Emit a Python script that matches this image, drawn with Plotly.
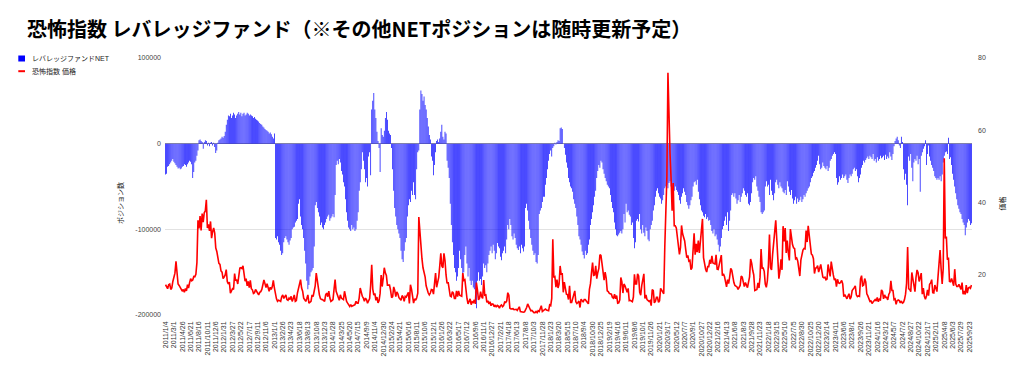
import pandas as pd
import plotly.graph_objects as go

# ---------------- data (weekly, Tuesdays, from 2011/1/4) ----------------
# Leveraged-fund NET positions, in thousands of contracts
net_2011 = [-36,-35,-27,-26,-24,-22,-20,-18,-21,-23,-25,-27,-29,-28,-30,-29,-27,-26,-24,-25,-27,-24,-22,-20,-21,-24,-40,-33,-22,-20,-14,-8,4,5,3,2,-6,2,4,3,-2,1,-3,1,2,-2,1,-4,-11,-8,1,4]
net_2012 = [5,6,8,7,9,14,22,28,33,32,35,30,33,36,34,30,33,35,37,34,36,32,35,36,33,34,36,35,33,34,33,32,30,31,29,28,27,26,24,23,22,20,19,17,16,15,14,12,13,11,8,6]
net_2013 = [12,-110,-112,-108,-115,-118,-125,-130,-128,-115,-110,-108,-112,-115,-118,-113,-110,-100,-98,-97,-92,-90,-88,-70,-65,-85,-95,-100,-110,-125,-140,-160,-170,-165,-155,-150,-148,-145,-120,-72,-68,-75,-80,-85,-95,-92,-98,-100,-95,-92,-88,-85,-83]
net_2014 = [-90,-87,-85,-82,-86,-60,-25,-20,-24,-18,-22,-32,-36,-45,-50,-65,-80,-90,-98,-100,-102,-95,-100,-98,-102,-100,-90,-80,-55,-45,-30,-10,-20,-30,-45,-40,-50,-15,-10,-37,40,50,59,40,30,14,3,-5,-33,18,10,8]
net_2015 = [15,30,37,28,15,12,10,-5,-30,-55,-75,-85,-95,-100,-105,-110,-125,-135,-138,-125,-115,-110,-85,-72,-65,-68,-55,-60,-45,-60,-65,-30,-10,-8,40,62,58,50,55,45,40,30,20,10,5,-15,-20,-37,-25,-10,3,5]
net_2016 = [2,6,14,22,8,5,14,12,-20,-28,-40,-70,-95,-115,-130,-145,-150,-160,-155,-145,-125,-135,-145,-160,-150,-130,-120,-140,-155,-145,-160,-165,-160,-168,-170,-175,-192,-160,-150,-160,-158,-165,-155,-140,-145,-142,-150,-140,-130,-125,-120,-128]
net_2017 = [-118,-125,-135,-128,-116,-120,-122,-132,-136,-128,-125,-120,-128,-112,-95,-100,-88,-95,-108,-112,-105,-110,-118,-122,-124,-120,-128,-118,-122,-126,-120,-75,-70,-78,-90,-100,-110,-118,-125,-130,-128,-138,-140,-130,-82,-78,-75,-68,-62,-62,-48,-40]
net_2018 = [-30,-20,-12,-8,-15,-5,-3,1,-1,2,4,3,18,19,17,0,-5,-13,-22,-28,-40,-45,-50,-52,-56,-65,-70,-75,-85,-95,-108,-112,-118,-126,-130,-134,-125,-130,-128,-118,-112,-95,-88,-80,-72,-62,-55,-40,-32,-25,-28,-20]
net_2019 = [-22,-30,-35,-40,-44,-48,-50,-52,-60,-68,-75,-80,-92,-100,-107,-108,-106,-104,-102,-105,-100,-82,-92,-70,-80,-78,-83,-85,-95,-92,-110,-122,-115,-90,-88,-91,-82,-100,-105,-95,-104,-108,-98,-102,-112,-114,-100,-95,-90,-78,-72,-62,-55]
net_2020 = [-52,-58,-62,-64,-70,-66,-60,-52,-50,-48,-52,-46,-44,-50,-58,-64,-55,-50,-54,-56,-60,-66,-70,-62,-58,-52,-56,-60,-68,-72,-76,-72,-66,-62,-50,-45,-44,-48,-42,-56,-65,-72,-78,-80,-84,-86,-82,-88,-86,-90,-89,-95]
net_2021 = [-102,-105,-100,-108,-106,-112,-118,-126,-120,-110,-100,-96,-90,-85,-95,-80,-102,-90,-78,-60,-58,-62,-58,-64,-70,-66,-60,-68,-62,-58,-52,-55,-60,-62,-58,-70,-72,-68,-58,-45,-40,-42,-38,-50,-55,-62,-68,-80,-82,-80,-78,-50]
net_2022 = [-44,-50,-48,-60,-42,-55,-60,-66,-58,-45,-42,-48,-52,-45,-50,-52,-56,-58,-54,-60,-44,-50,-56,-60,-54,-64,-70,-66,-62,-70,-64,-68,-66,-62,-68,-65,-60,-62,-58,-55,-52,-50,-45,-40,-38,-34,-32,-28,-25,-20,-14,-24]
net_2023 = [-30,-28,-22,-26,-28,-30,-26,-32,-28,-20,-18,-14,-12,-10,-12,-40,-48,-45,-38,-42,-40,-36,-40,-38,-36,-42,-46,-40,-36,-38,-35,-30,-28,-32,-30,-38,-45,-40,-36,-28,-25,-20,-22,-19,-17,-15,-18,-14,-16,-18,-12,-20]
net_2024 = [-18,-22,-16,-20,-18,-14,-17,-16,-14,-19,-13,-18,-15,-17,-10,-15,-19,-12,-3,3,6,8,4,-2,-5,8,2,-30,-42,-35,-48,-72,-15,-20,-12,-28,-44,-22,-18,-20,-14,-24,-18,-56,-14,-10,-6,-3,4,-25,-12,-2,-15]
net_2025 = [-20,-25,-28,-32,-38,-40,-42,-40,-42,-38,-44,-36,-22,-14,-10,-9,-12,7,-18,-16,-25,-35,-42,-50,-58,-65,-72,-76,-80,-82,-88,-92,-95,-107,-98,-92,-88,-90,-95,-93]

# VIX price
vix_2011 = [17.3,16.5,16.2,17.3,17.5,16.0,16.4,18.2,20.0,20.5,23.8,20.0,17.5,17.1,16.6,15.9,15.5,16.0,15.2,16.3,15.6,17.3,16.4,17.9,19.0,18.4,18.6,19.6,19.5,20.2,23.4,35.1,32.9,36.3,32.3,37.0,34.6,37.2,37.7,40.8,33.0,34.0,32.2,34.8,30.2,32.0,33.0,31.6,27.5,26.5,24.3,23.2]
vix_2012 = [22.9,21.1,20.8,19.0,19.4,20.0,21.5,18.2,17.5,18.0,15.0,15.6,16.2,16.0,20.4,18.4,18.7,17.5,19.5,21.9,22.0,21.8,22.5,20.0,18.3,19.0,17.0,18.2,16.5,18.5,16.2,15.9,14.9,15.1,16.0,15.5,15.0,14.5,15.2,15.4,16.0,17.0,18.6,17.6,16.5,17.6,16.4,15.5,16.6,16.0,16.8,18.5]
vix_2013 = [16.4,14.5,13.4,12.7,13.0,12.9,12.7,14.0,14.5,13.5,14.0,14.5,13.2,13.0,13.6,13.2,14.1,12.7,13.5,14.5,12.7,12.9,15.0,16.4,17.3,18.7,16.4,15.5,13.6,13.2,12.7,13.5,14.5,12.2,12.5,12.7,14.5,14.0,15.5,17.0,20.5,18.0,16.5,14.5,13.5,13.2,13.2,12.9,12.7,14.5,15.0,14.0,15.5]
vix_2014 = [13.6,12.7,12.9,13.2,16.0,18.7,15.5,14.5,14.1,13.0,14.5,13.6,13.4,13.2,15.5,13.5,12.7,12.2,11.5,11.3,11.8,11.3,11.5,11.8,11.8,12.7,12.2,12.2,13.6,16.4,15.0,14.1,13.6,12.7,13.6,13.2,12.2,12.7,13.5,17.2,22.8,16.1,14.4,14.9,13.0,13.9,12.3,12.9,14.9,20.0,16.8,19.2]
vix_2015 = [22.0,20.6,19.9,17.2,17.3,17.2,15.8,13.7,14.0,16.7,15.7,14.0,15.3,14.8,13.7,13.3,13.0,14.3,13.9,12.7,14.1,13.9,14.5,15.2,12.1,17.3,16.1,13.4,12.2,13.4,13.0,13.7,15.0,36.0,31.0,27.0,24.5,22.0,21.0,19.5,17.0,15.8,15.0,14.5,15.0,16.0,15.9,14.7,18.0,20.5,16.6,18.2]
vix_2016 = [19.3,22.5,26.0,22.5,22.0,26.0,24.0,20.0,17.7,18.0,16.5,14.2,14.0,15.4,15.0,13.5,13.5,15.6,14.0,15.6,14.4,14.2,14.1,20.5,18.5,18.7,15.0,13.5,12.0,12.9,13.4,11.8,12.6,12.4,13.1,12.0,17.9,15.9,13.1,13.6,15.4,14.0,13.5,18.6,14.4,14.5,12.4,12.9,12.0,12.6,11.5,12.0]
vix_2017 = [11.9,11.2,11.7,11.1,11.6,11.4,10.8,11.5,11.7,11.2,11.5,12.5,12.4,12.8,15.1,14.4,10.8,10.6,10.6,10.7,10.4,10.4,10.5,10.2,10.9,11.2,9.9,9.8,9.8,9.7,9.8,10.3,11.0,12.0,11.3,10.6,10.1,10.2,9.9,9.6,9.6,9.9,9.6,10.1,9.9,10.5,11.5,9.9,10.2,10.3,10.6,10.3]
vix_2018 = [10.1,10.1,11.7,11.5,13.5,29.9,19.3,19.5,16.6,18.7,16.4,17.5,22.5,20.1,20.5,15.2,18.0,15.5,14.7,14.6,13.2,17.0,12.4,12.4,13.4,14.3,15.6,12.6,12.1,12.4,12.8,11.0,13.3,12.9,12.5,13.2,13.2,12.8,12.4,12.0,16.0,17.6,20.7,23.4,19.9,20.0,22.5,19.0,20.7,21.8,25.6,25.4]
vix_2019 = [23.2,20.5,18.6,20.8,19.1,15.6,15.4,14.9,14.9,14.7,13.8,13.6,14.7,13.4,14.3,12.2,12.3,13.1,19.3,18.1,15.0,17.5,17.0,15.9,15.2,16.3,12.9,13.0,12.9,12.6,13.9,20.2,17.5,17.5,20.3,19.7,15.2,14.4,17.1,18.6,20.3,13.5,14.5,13.2,12.8,12.7,12.9,11.5,16.0,15.7,12.3,12.7,13.8]
vix_2020 = [13.8,12.4,12.9,16.3,15.8,15.2,14.8,27.9,36.8,47.3,75.9,61.7,53.5,46.7,37.8,45.4,33.6,33.6,33.0,30.5,28.0,25.7,27.6,33.7,31.4,30.4,29.4,27.0,24.8,25.4,23.8,24.0,21.5,22.0,26.1,31.5,25.6,28.6,26.3,29.5,26.1,29.4,33.3,35.5,24.8,22.7,21.6,20.8,22.3,22.3,24.2,23.1]
vix_2021 = [25.3,23.3,23.2,23.0,25.6,21.6,21.5,23.1,24.1,25.5,19.8,20.3,19.6,18.1,16.7,18.7,17.6,19.5,21.8,21.3,18.8,17.9,17.1,17.0,16.7,16.0,16.4,17.1,19.7,19.4,18.0,16.8,17.9,17.2,16.5,18.0,19.5,24.4,23.3,21.3,20.0,15.7,16.0,16.0,17.8,16.4,19.4,27.2,21.9,21.9,21.0,17.5]
vix_2022 = [16.6,18.4,22.8,31.2,22.0,21.4,25.7,28.8,33.3,35.1,29.8,22.9,19.0,21.0,24.3,21.4,33.5,29.3,33.0,26.1,29.5,26.2,24.0,32.7,30.2,28.4,27.5,27.3,24.5,24.7,23.9,21.3,19.7,24.1,26.2,26.9,27.3,27.2,32.3,29.1,33.6,30.5,28.5,25.8,25.5,24.5,20.4,21.9,22.0,22.6,20.8,21.7]
vix_2023 = [22.9,21.1,19.4,19.2,19.4,18.7,18.9,22.9,20.7,19.6,23.7,21.4,20.0,18.6,19.0,16.8,18.8,17.8,17.7,18.0,18.5,17.5,14.0,14.6,13.9,13.4,14.2,14.8,13.3,13.9,15.7,16.0,16.5,17.0,14.5,14.0,14.2,14.1,18.9,19.8,17.0,17.2,19.0,18.1,14.8,14.2,13.4,12.7,12.8,12.1,12.5,13.0]
vix_2024 = [13.2,12.8,13.8,12.6,13.3,13.1,15.9,15.4,13.4,14.5,13.8,13.8,13.1,14.6,15.2,18.4,15.7,15.7,13.2,13.4,11.9,12.9,13.1,12.9,12.3,12.8,12.2,12.4,13.2,14.7,17.7,27.7,16.2,16.0,15.4,20.7,19.1,17.6,15.4,19.3,21.4,20.6,18.2,19.3,20.5,14.7,16.4,14.1,13.3,14.2,15.9,14.3,17.4]
vix_2025 = [17.8,18.7,15.1,15.0,17.2,16.0,15.4,19.4,23.5,26.9,21.7,17.5,21.8,52.3,30.1,30.6,24.2,24.8,18.2,18.1,19.0,17.7,17.0,21.6,17.5,16.8,16.8,17.4,16.5,16.0,17.9,14.7,15.6,14.6,17.2,15.0,16.4,16.6,16.3,17.2]

left_ticks = [-200000, -100000, 0, 100000]
left_tick_text = ["-200000", "-100000", "0", "100000"]
right_ticks = [20, 40, 60, 80]

net_k = (net_2011 + net_2012 + net_2013 + net_2014 + net_2015 + net_2016 + net_2017 + net_2018
         + net_2019 + net_2020 + net_2021 + net_2022 + net_2023 + net_2024 + net_2025)
vix = (vix_2011 + vix_2012 + vix_2013 + vix_2014 + vix_2015 + vix_2016 + vix_2017 + vix_2018
       + vix_2019 + vix_2020 + vix_2021 + vix_2022 + vix_2023 + vix_2024 + vix_2025)
n = min(len(net_k), len(vix))
dates = pd.date_range("2011-01-04", periods=n, freq="7D")
categories = [f"{d.year}/{d.month}/{d.day}" for d in dates]
net_values = [v * 1000 for v in net_k[:n]]
vix_values = vix[:n]
tick_labels = categories[::8]

# ---------------- layout helpers (page coords; body has 8px margin) ----------------
OFF = 8
W, H = 1024 - OFF, 373 - OFF
PL, PR, PT, PB = 165, 972, 58, 315          # plot area in page pixels
L, R, T, B = PL - OFF, W - (PR - OFF), PT - OFF, H - (PB - OFF)
PW, PH = W - L - R, H - T - B
def px(x):
    return (x - OFF - L) / PW
def py(y):
    return (H - B - (y - OFF)) / PH

FONT = "Liberation Sans, Arial, Noto Sans CJK JP, sans-serif"

fig = go.Figure()
fig.add_trace(go.Bar(
    x=categories, y=net_values, name="レバレッジファンドNET",
    marker=dict(color="rgba(0,0,255,0.97)", line=dict(width=0)),
    yaxis="y",
))
fig.add_trace(go.Scatter(
    x=categories, y=vix_values, name="恐怖指数 価格", mode="lines",
    line=dict(color="#ff0000", width=1.6),
    yaxis="y2",
))

fig.update_layout(
    width=W, height=H,
    margin=dict(l=L, r=R, t=T, b=B, pad=0),
    paper_bgcolor="white", plot_bgcolor="white",
    font=dict(family=FONT, size=7, color="#444"),
    showlegend=False,
    bargap=0.3,
    title=dict(
        text="<b>恐怖指数 レバレッジファンド（※その他NETポジションは随時更新予定）</b>",
        x=(27 - OFF) / W, xref="container", xanchor="left",
        y=1 - (30 - OFF) / H, yref="container", yanchor="middle",
        font=dict(family="Noto Sans CJK JP, sans-serif", size=20, color="#000"),
    ),
    xaxis=dict(
        type="category", range=[-0.5, n - 0.5],
        tickmode="array", tickvals=tick_labels, ticktext=tick_labels,
        tickangle=-90, tickfont=dict(size=7, color="#333"),
        showgrid=False, showline=False, zeroline=False, ticks="",
        automargin=False, ticklabelstandoff=4,
    ),
    yaxis=dict(
        range=[-200000, 100000], tickmode="array",
        tickvals=left_ticks, ticktext=left_tick_text,
        tickfont=dict(size=7, color="#444"),
        showgrid=True, gridcolor="#e2e2e2", gridwidth=1,
        zeroline=True, zerolinecolor="#9a9a9a", zerolinewidth=1,
        showline=False, ticks="", automargin=False, ticklabelstandoff=3,
    ),
    yaxis2=dict(
        overlaying="y", side="right", range=[8.93, 80],
        tickmode="array", tickvals=right_ticks,
        tickfont=dict(size=7, color="#444"),
        showgrid=False, zeroline=False, showline=False, ticks="",
        automargin=False, ticklabelstandoff=5,
    ),
)

# axis titles
fig.add_annotation(text="ポジション数", x=px(120), y=py(203), xref="paper", yref="paper",
                   textangle=-90, showarrow=False, font=dict(size=7, color="#222"),
                   xanchor="center", yanchor="middle")
fig.add_annotation(text="価格", x=px(1001.5), y=py(204), xref="paper", yref="paper",
                   textangle=-90, showarrow=False, font=dict(size=7, color="#222"),
                   xanchor="center", yanchor="middle")

# legend (top-left)
fig.add_shape(type="rect", xref="paper", yref="paper",
              x0=px(18.3), x1=px(25), y0=py(61.5), y1=py(55.5),
              fillcolor="#0000ff", line=dict(width=0))
fig.add_shape(type="line", xref="paper", yref="paper",
              x0=px(18.3), x1=px(25), y0=py(71.2), y1=py(71.2),
              line=dict(color="#ff0000", width=2))
fig.add_annotation(text="レバレッジファンドNET", x=px(30), y=py(58.5), xref="paper", yref="paper",
                   showarrow=False, xanchor="left", yanchor="middle", font=dict(size=7, color="#222"))
fig.add_annotation(text="恐怖指数 価格", x=px(30), y=py(71.2), xref="paper", yref="paper",
                   showarrow=False, xanchor="left", yanchor="middle", font=dict(size=7, color="#222"))

fig.write_html("out.html")
